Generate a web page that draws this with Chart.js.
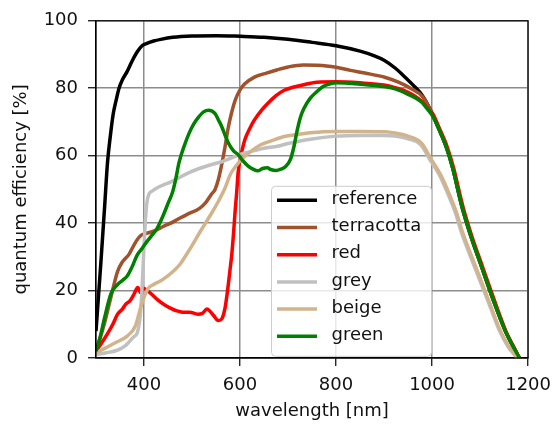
<!DOCTYPE html>
<html>
<head>
<meta charset="utf-8">
<script src="https://cdn.jsdelivr.net/npm/chart.js@4"></script>
<style>
body { margin: 0; background: #fff; }
</style>
</head>
<body>
<canvas id="myChart" width="560" height="425"></canvas>
<script>
// tick labels
const xTicks = [400, 600, 800, 1000, 1200];
const yTicks = [0, 20, 40, 60, 80, 100];

// reference
const refNm = [300, 305, 310, 318, 324, 330, 336, 342, 348, 355, 365, 375, 386, 396, 406, 420, 435, 460, 500, 550, 600, 650, 700, 750, 800, 850, 880, 900, 923, 940, 960, 980, 1000, 1012, 1029, 1043, 1056, 1063, 1080, 1104, 1128, 1152, 1168, 1182];
const refQe = [8, 18, 28, 45, 58, 66, 72.5, 76.5, 80, 82.5, 85, 88, 90.8, 92.6, 93.3, 94, 94.5, 95.1, 95.5, 95.6, 95.4, 95.1, 94.5, 93.6, 92.6, 91, 89.6, 88.3, 86, 83.8, 81, 77.8, 72.6, 68.6, 62.8, 56.3, 48.5, 44.5, 36.5, 26.7, 17, 8.2, 3.6, 0];

// terracotta
const tcNm = [300, 310, 318, 331, 345, 355, 369, 379, 388, 395, 405, 420, 440, 460, 475, 490, 515, 528, 540, 548, 555, 562, 569, 575, 582, 590, 600, 610, 630, 655, 678, 700, 732, 760, 780, 800, 830, 860, 903, 930, 955, 981, 1000, 1012, 1029, 1043, 1056, 1063, 1080, 1104, 1128, 1152, 1168, 1182];
const tcQe = [2, 6.5, 10.5, 18, 25.7, 28.5, 30.8, 33.5, 35.5, 36.5, 37, 37.6, 39, 40.3, 41.5, 42.6, 44.3, 46, 48.5, 50, 53, 57.5, 62.8, 68, 72.5, 76.5, 79.5, 81.3, 83.3, 84.5, 85.5, 86.3, 86.9, 86.8, 86.6, 86.2, 85.3, 84.5, 83.2, 81.8, 80, 77.4, 72.6, 68.6, 62.8, 56.3, 48.5, 44.5, 36.5, 26.7, 17, 8.2, 3.6, 0];

// red
const redNm = [300, 312, 324, 335, 345, 355, 362, 371, 379, 387, 393, 399, 405, 416, 428, 440, 455, 468, 480, 495, 512, 522, 531, 538, 545, 555, 562, 569, 574, 579, 583, 587, 590, 593, 596, 602, 610, 620, 630, 645, 657, 675, 692, 710, 726, 760, 800, 850, 903, 923, 950, 978, 992, 1002, 1014, 1031, 1045, 1058, 1065, 1082, 1106, 1130, 1153, 1169, 1182];
const redQe = [2, 4.5, 7.2, 10, 13, 14.5, 16, 17, 18.9, 20.9, 19.4, 20.7, 20.2, 18.9, 17.3, 16, 14.8, 14, 13.6, 13.6, 13, 13.3, 14.5, 13.8, 12.6, 11.1, 11.6, 15, 20, 26, 31, 38, 44, 49, 55, 60, 64.7, 68, 70.6, 73.5, 75.4, 77.8, 79.4, 80.3, 80.8, 81.8, 81.9, 81.6, 80.9, 80.2, 78.8, 76.2, 73.8, 72.3, 68.5, 62.8, 56.3, 48.5, 44.5, 36.5, 26.7, 17, 8.2, 3.6, 0];

// grey
const greyNm = [300, 320, 344, 360, 378, 386, 391, 394, 397, 400, 403, 406, 410, 418, 425, 440, 453, 473, 494, 515, 541, 562, 585, 610, 630, 650, 678, 700, 746, 800, 850, 900, 923, 950, 976, 996, 1017, 1037, 1048, 1061, 1089, 1116, 1140, 1158, 1177];
const greyQe = [1, 1.5, 2.3, 3.5, 6.2, 7.5, 11, 16, 24, 33, 41, 46, 48.5, 49.6, 50.3, 51.3, 52, 53.5, 55, 56.2, 57.4, 58.2, 59.5, 60.8, 61.5, 62.2, 62.8, 63.6, 64.9, 65.8, 66, 66, 65.8, 65, 63.3, 58.7, 53.8, 47.3, 43.3, 37.3, 26.8, 17, 8.2, 3.4, 0];

// beige
const beigeNm = [300, 320, 340, 365, 382, 393, 400, 408, 420, 434, 448, 461, 475, 488, 500, 515, 528, 541, 555, 569, 580, 592, 603, 620, 644, 665, 692, 720, 746, 800, 850, 903, 923, 950, 978, 998, 1019, 1039, 1050, 1063, 1091, 1118, 1142, 1160, 1178];
const beigeQe = [1.5, 3, 4.5, 6.5, 9.5, 15, 18, 20.5, 21.8, 22.8, 24.2, 25.7, 27.8, 30.6, 33.3, 37, 40, 43, 46.5, 50.5, 54.5, 57, 58.9, 61, 63.3, 64.4, 65.7, 66.3, 66.8, 67.2, 67.2, 67.1, 66.7, 65.8, 63.7, 59, 54, 47.5, 43.5, 37.5, 27, 17, 8.2, 3.4, 0];

// green
const greenNm = [300, 310, 318, 331, 345, 355, 365, 375, 386, 396, 406, 417, 427, 440, 451, 459, 466, 473, 484, 494, 504, 514, 524, 535, 548, 555, 562, 569, 576, 586, 596, 606, 617, 627, 637, 647, 657, 664, 675, 685, 695, 705, 712, 719, 726, 733, 746, 760, 773, 790, 800, 850, 903, 923, 950, 978, 992, 1000, 1012, 1029, 1043, 1056, 1063, 1080, 1104, 1128, 1152, 1168, 1182];
const greenQe = [2, 7, 12, 19, 21.8, 23, 24.3, 27, 30.6, 32.5, 34.5, 36.5, 38.4, 42.3, 46.2, 49, 53, 58, 63, 66.7, 69.5, 71.5, 73, 73.5, 72.5, 70.6, 68.6, 66, 63.7, 61.5, 60.3, 58.5, 56.9, 56, 55.5, 56.2, 56.4, 55.9, 55.6, 56, 56.8, 58.9, 62.5, 67.5, 71.5, 74, 77, 79, 80.5, 81.4, 81.6, 81.2, 80.4, 79.8, 78.2, 75.9, 73.5, 72, 68.6, 62.8, 56.3, 48.5, 44.5, 36.5, 26.7, 17, 8.2, 3.6, 0];

// nm + qe -> points
function pts(nm, qe) {
    return nm.map((x, i) => ({x: x, y: qe[i]}));
}

function serie(label, nm, qe, color, order) {
    return {
        label: label,
        data: pts(nm, qe),
        borderColor: color,
        backgroundColor: color,
        borderWidth: 3.5,
        pointRadius: 0,
        fill: false,
        cubicInterpolationMode: 'monotone',
        borderJoinStyle: 'round',
        order: order
    };
}

// cadre noir + legende dans le graphique
const frameLegend = {
    id: 'frameLegend',
    afterDatasetsDraw(chart) {
        const ctx = chart.ctx;
        const a = chart.chartArea;
        ctx.save();
        ctx.strokeStyle = '#000';
        ctx.lineWidth = 1.2;
        ctx.strokeRect(a.left, a.top, a.right - a.left, a.bottom - a.top);

        const bx = a.left + 175.5, by = a.top + 165.5, bw = 160, bh = 170;
        ctx.beginPath();
        ctx.roundRect(bx, by, bw, bh, 4);
        ctx.fillStyle = 'rgba(255,255,255,0.8)';
        ctx.fill();
        ctx.strokeStyle = '#cccccc';
        ctx.lineWidth = 1;
        ctx.stroke();

        ctx.font = '18px "DejaVu Sans"';
        ctx.textBaseline = 'middle';
        ctx.textAlign = 'left';
        chart.data.datasets.forEach((ds, i) => {
            const y = by + 14 + i * 27.2;
            ctx.beginPath();
            ctx.moveTo(bx + 5.5, y);
            ctx.lineTo(bx + 45.5, y);
            ctx.strokeStyle = ds.borderColor;
            ctx.lineWidth = 3.5;
            ctx.stroke();
            ctx.fillStyle = '#111';
            ctx.fillText(ds.label, bx + 60, y - 1);
        });
        ctx.restore();
    }
};

Chart.defaults.font.family = '"DejaVu Sans"';
Chart.defaults.font.size = 18;
Chart.defaults.color = '#111';

const ctx = document.getElementById('myChart').getContext('2d');
const myChart = new Chart(ctx, {
    type: 'line',
    data: {
        datasets: [
            serie('reference', refNm, refQe, '#000000', 5),
            serie('terracotta', tcNm, tcQe, '#a0522d', 4),
            serie('red', redNm, redQe, '#ff0000', 3),
            serie('grey', greyNm, greyQe, '#c0c0c0', 2),
            serie('beige', beigeNm, beigeQe, '#d2b48c', 1),
            serie('green', greenNm, greenQe, '#008000', 0)
        ]
    },
    options: {
        responsive: false,
        animation: false,
        devicePixelRatio: 1,
        layout: {
            padding: {left: 0, right: 25, top: 16, bottom: 0}
        },
        plugins: {
            legend: {display: false},
            tooltip: {enabled: false}
        },
        scales: {
            x: {
                type: 'linear',
                min: 300,
                max: 1200,
                afterBuildTicks: s => { s.ticks = xTicks.map(v => ({value: v})); },
                afterFit: s => { s.height = 67; },
                grid: {color: '#8c8c8c', lineWidth: 1.5, tickColor: '#000', tickLength: 8, tickWidth: 1.2},
                border: {color: '#000', width: 1.2},
                ticks: {padding: 9, maxRotation: 0, callback: v => String(v)},
                title: {display: true, text: 'wavelength [nm]', padding: {top: 0, bottom: 3}}
            },
            y: {
                min: 0,
                max: 100,
                afterBuildTicks: s => { s.ticks = yTicks.map(v => ({value: v})); },
                afterFit: s => { s.width = 96; },
                grid: {color: '#8c8c8c', lineWidth: 1.5, tickColor: '#000', tickLength: 8, tickWidth: 1.2},
                border: {color: '#000', width: 1.2},
                ticks: {padding: 10, callback: v => String(v)},
                title: {display: true, text: 'quantum efficiency [%]', padding: {top: 11, bottom: 0}}
            }
        }
    },
    plugins: [frameLegend]
});
</script>
</body>
</html>
